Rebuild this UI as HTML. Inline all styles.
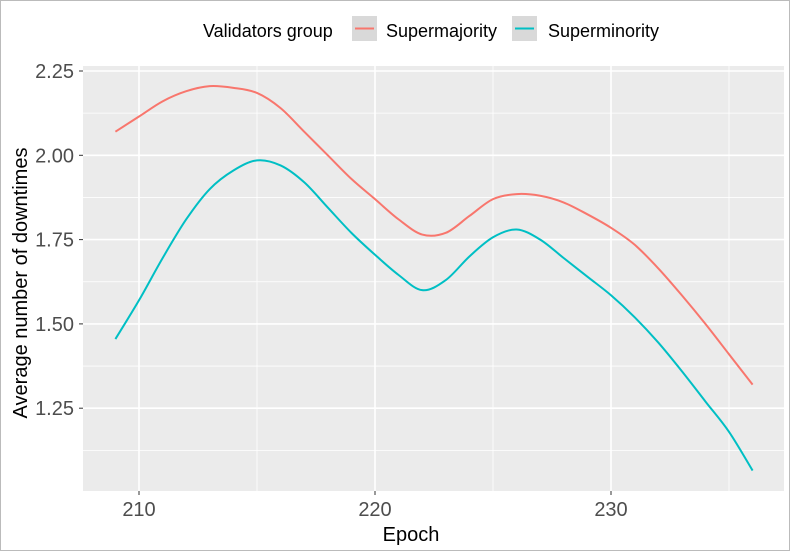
<!DOCTYPE html>
<html><head><meta charset="utf-8"><style>
body{margin:0;background:#fff;}
svg{display:block;font-family:"Liberation Sans",Arial,sans-serif;}
</style></head><body>
<svg id="chart" width="790" height="551">
<rect x="0.5" y="0.5" width="789" height="550" fill="#fff" stroke="#bbb"/>
<rect id="panel" x="83" y="66" width="701" height="425" fill="#ebebeb"/>
<g id="grid"></g><g id="axes"></g><g id="series"></g>
<text x="411" y="541" text-anchor="middle" font-size="20" fill="#000">Epoch</text>
<text transform="translate(27,283) rotate(-90)" text-anchor="middle" font-size="20" fill="#000">Average number of downtimes</text>
<g>
<text x="203" y="37" font-size="18" fill="#000">Validators group</text>
<g>
<rect x="352" y="16" width="25" height="25" fill="#d9d9d9"/>
<line x1="355" y1="28.5" x2="374" y2="28.5" stroke="#F8766D" stroke-width="2"/>
<text x="386" y="37" font-size="18" fill="#000">Supermajority</text></g>
<g>
<rect x="512" y="16" width="25" height="25" fill="#d9d9d9"/>
<line x1="515" y1="28.5" x2="534" y2="28.5" stroke="#00BFC4" stroke-width="2"/>
<text x="548" y="37" font-size="18" fill="#000">Superminority</text></g>
</g>
</svg>
<script>
const epochs=[209,210,211,212,213,214,215,216,217,218,219,220,221,222,223,224,225,226,227,228,229,230,231,232,233,234,235,236];
const supermajority=[2.07,2.115,2.16,2.19,2.205,2.2,2.185,2.14,2.07,2.0,1.93,1.87,1.81,1.765,1.77,1.82,1.87,1.885,1.88,1.86,1.825,1.785,1.735,1.665,1.585,1.5,1.41,1.32];
const superminority=[1.455,1.57,1.695,1.81,1.9,1.955,1.985,1.97,1.92,1.845,1.77,1.705,1.645,1.6,1.63,1.7,1.757,1.78,1.75,1.695,1.64,1.585,1.52,1.445,1.36,1.27,1.18,1.065];
const xTicks=[210,220,230];
const xMinor=[205,215,225,235];
const yTicks=[1.25,1.5,1.75,2.0,2.25];
const yTickLabels=["1.25","1.50","1.75","2.00","2.25"];
const yMinor=[1.125,1.375,1.625,1.875,2.125];
const NS="http://www.w3.org/2000/svg";
const X=v=>139+(v-210)*23.6;
const Y=v=>155.3-(v-2.0)*337.2;
function mk(p,t,a){const e=document.createElementNS(NS,t);for(const k in a)e.setAttribute(k,a[k]);p.appendChild(e);return e;}
const grid=document.getElementById('grid'),axes=document.getElementById('axes'),ser=document.getElementById('series');
const clip=v=>v>=83&&v<=784;
xMinor.forEach(v=>{if(!clip(X(v)))return;const l=mk(grid,'line',{x1:X(v),x2:X(v),y1:66,y2:491,stroke:'#fff','stroke-width':0.8});

});
yMinor.forEach(v=>{const l=mk(grid,'line',{x1:83,x2:784,y1:Y(v),y2:Y(v),stroke:'#fff','stroke-width':0.8});

});
xTicks.forEach(v=>{const l=mk(grid,'line',{x1:X(v),x2:X(v),y1:66,y2:491,stroke:'#fff','stroke-width':1.6});


const t=mk(axes,'line',{x1:X(v),x2:X(v),y1:491,y2:495,stroke:'#333','stroke-width':1});


const tx=mk(axes,'text',{x:X(v),y:516,'text-anchor':'middle','font-size':20,fill:'#4d4d4d'});tx.textContent=v;

});
yTicks.forEach((v,i)=>{const l=mk(grid,'line',{x1:83,x2:784,y1:Y(v),y2:Y(v),stroke:'#fff','stroke-width':1.6});


const t=mk(axes,'line',{x1:79,x2:83,y1:Y(v),y2:Y(v),stroke:'#333','stroke-width':1});


const tx=mk(axes,'text',{x:74,y:Y(v)+7,'text-anchor':'end','font-size':20,fill:'#4d4d4d'});tx.textContent=yTickLabels[i];

});
function pathFor(vals){const p=epochs.map((e,i)=>[X(e),Y(vals[i])]);let d=`M${p[0][0]},${p[0][1]}`;
for(let i=0;i<p.length-1;i++){const p0=p[Math.max(i-1,0)],p1=p[i],p2=p[i+1],p3=p[Math.min(i+2,p.length-1)];
d+=` C${p1[0]+(p2[0]-p0[0])/6},${p1[1]+(p2[1]-p0[1])/6} ${p2[0]-(p3[0]-p1[0])/6},${p2[1]-(p3[1]-p1[1])/6} ${p2[0]},${p2[1]}`;}return d;}
const a=mk(ser,'path',{d:pathFor(supermajority),fill:'none',stroke:'#F8766D','stroke-width':2});


const b=mk(ser,'path',{d:pathFor(superminority),fill:'none',stroke:'#00BFC4','stroke-width':2});


</script>
</body></html>
